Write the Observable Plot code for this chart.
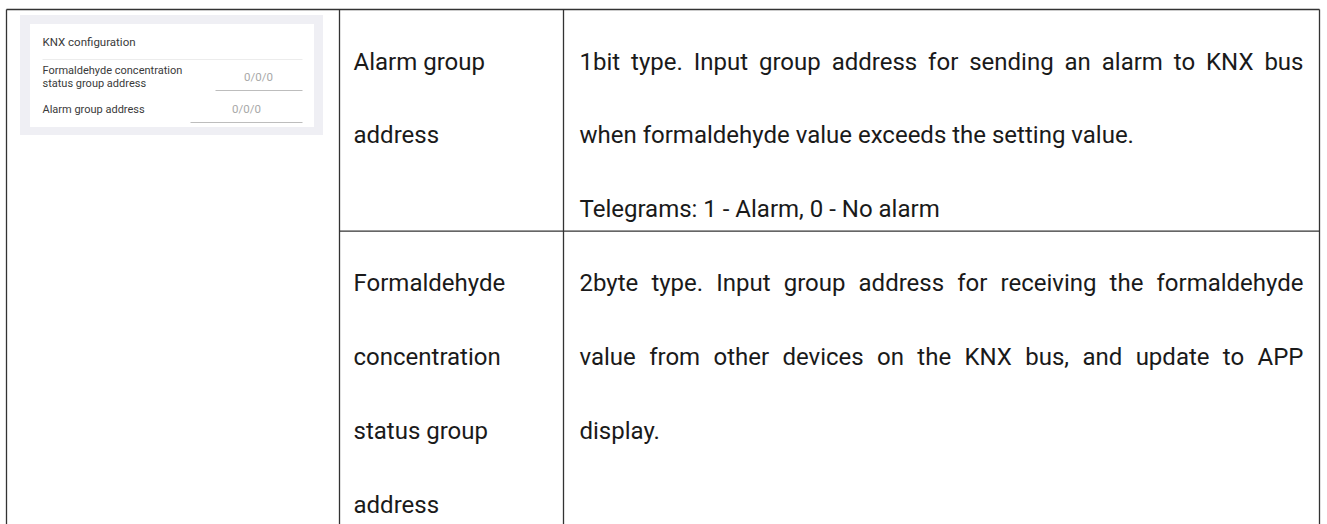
<!DOCTYPE html>
<html><head><meta charset="utf-8">
<script src="https://cdn.jsdelivr.net/npm/d3@7"></script>
<script src="https://cdn.jsdelivr.net/npm/@observablehq/plot@0.6"></script>
<style>html,body{margin:0;padding:0;background:#fff;} svg{display:block}</style>
</head><body><div id="chart"></div>
<script>
// ---- content ----
const parameterNames = [
  ["Alarm group", "address"],
  ["Formaldehyde", "concentration", "status group", "address"]
];
const descriptionLines = [
  ["1bit type. Input group address for sending an alarm to KNX bus",
   "when formaldehyde value exceeds the setting value.",
   "Telegrams: 1 - Alarm, 0 - No alarm"],
  ["2byte type. Input group address for receiving the formaldehyde",
   "value from other devices on the KNX bus, and update to APP",
   "display."]
];
const descriptionJustified = [
  [true, false, false],
  [true, true, false]
];
const rowLines = [3, 4];
const panelTitle = "KNX configuration";
const panelLabels = [["Formaldehyde concentration", "status group address"], ["Alarm group address"]];
const panelValues = ["0/0/0", "0/0/0"];

// ---- layout ----
const W = 1327, H = 524;
const tableTop = 9;
const colEdges = [6, 339, 563, 1319];
const lineH = 73.9, baseOff = 60;
const padLeft = 14, padRight = 16;
const bodySize = 24;
const rowTops = [];
{ let t = tableTop; for (const n of rowLines) { rowTops.push(t); t += n * lineH; } rowTops.push(t); }

const segs = [];
segs.push({x1: colEdges[0], x2: colEdges[3], y1: tableTop, y2: tableTop});
for (let r = 1; r < rowLines.length; r++) segs.push({x1: colEdges[1], x2: colEdges[3], y1: rowTops[r], y2: rowTops[r]});
segs.push({x1: colEdges[0], x2: colEdges[3], y1: rowTops[rowLines.length], y2: rowTops[rowLines.length]});
for (const x of colEdges) segs.push({x1: x, x2: x, y1: tableTop, y2: rowTops[rowLines.length]});

const leftTexts = parameterNames.flatMap((lines, r) => lines.map((t, i) => ({
  x: colEdges[1] + padLeft, y: rowTops[r] + baseOff + i * lineH, text: t})));
const rightTexts = descriptionLines.flatMap((lines, r) => lines.map((t, i) => ({
  x: colEdges[2] + padRight, y: rowTops[r] + baseOff + i * lineH, text: t, justify: descriptionJustified[r][i]})));
const justifiedSet = new Set(rightTexts.filter(d => d.justify).map(d => d.text));

// inset screenshot panel
const panelRects = [
  {x1: 20, x2: 323, y1: 15, y2: 135, fill: "#efeff4"},
  {x1: 30, x2: 314, y1: 24, y2: 127, fill: "#ffffff"}
];
const panelLabelPos = [{y: 73, dy: 13}, {y: 112, dy: 13}];
const panelText = [];
panelLabels.forEach((lines, k) => lines.forEach((t, i) => panelText.push({x: 42, y: panelLabelPos[k].y + i * panelLabelPos[k].dy, text: t})));
const panelValuePos = [{x: 258, y: 80}, {x: 246, y: 112}];
const panelValueText = panelValues.map((v, k) => ({...panelValuePos[k], text: v}));
const panelLines = [
  {x1: 42, x2: 302, y1: 59, y2: 59, stroke: "#ececec"},
  {x1: 215, x2: 302, y1: 90, y2: 90, stroke: "#bdbdbd"},
  {x1: 190, x2: 302, y1: 122, y2: 122, stroke: "#bdbdbd"}
];

const font = "Roboto";
const chart = Plot.plot({
  width: W, height: H,
  margin: 0,
  x: {type: "linear", domain: [0, W], range: [0, W], axis: null},
  y: {type: "linear", domain: [0, H], range: [0, H], axis: null},
  style: {background: "#fff", overflow: "hidden"},
  marks: [
    Plot.rect(panelRects, {x1: "x1", x2: "x2", y1: "y1", y2: "y2", fill: d => d.fill}),
    Plot.link(panelLines, {x1: "x1", x2: "x2", y1: "y1", y2: "y2", stroke: d => d.stroke, strokeWidth: 1}),
    Plot.text([{x: 42, y: 45, text: panelTitle}], {x: "x", y: "y", text: "text", textAnchor: "start", lineAnchor: "bottom", fontSize: 11.5, fontFamily: font, fill: "#3a3a3a"}),
    Plot.text(panelText, {x: "x", y: "y", text: "text", textAnchor: "start", lineAnchor: "bottom", fontSize: 11, fontFamily: font, fill: "#3a3a3a"}),
    Plot.text(panelValueText, {x: "x", y: "y", text: "text", textAnchor: "middle", lineAnchor: "bottom", fontSize: 11.5, fontFamily: font, fill: "#a8a8a8"}),
    Plot.link(segs, {x1: "x1", x2: "x2", y1: "y1", y2: "y2", stroke: "#333", strokeWidth: 1.3}),
    Plot.text(leftTexts, {x: "x", y: "y", text: "text", textAnchor: "start", lineAnchor: "bottom", fontSize: bodySize, fontFamily: font, fill: "#1a1a1a"}),
    Plot.text(rightTexts, {x: "x", y: "y", text: "text", textAnchor: "start", lineAnchor: "bottom", fontSize: bodySize, fontFamily: font, fill: "#1a1a1a"})
  ]
});
document.getElementById("chart").appendChild(chart);

// justify the full lines of each paragraph across the cell width
const target = (colEdges[3] - padRight) - (colEdges[2] + padRight);
chart.querySelectorAll("text").forEach(t => {
  if (!justifiedSet.has(t.textContent)) return;
  const len = t.getComputedTextLength();
  const spaces = (t.textContent.match(/ /g) || []).length;
  if (spaces && target > len) t.style.wordSpacing = ((target - len) / spaces).toFixed(2) + "px";
});
</script>
</body></html>
